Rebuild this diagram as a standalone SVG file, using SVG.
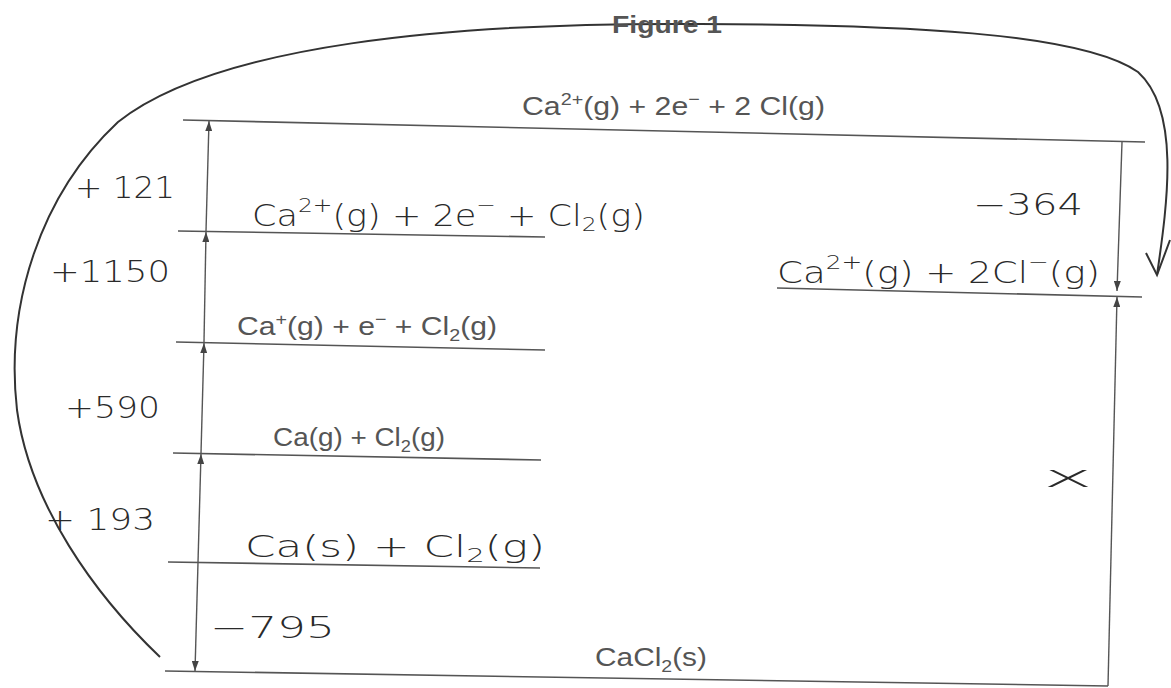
<svg xmlns="http://www.w3.org/2000/svg" width="1171" height="688" viewBox="0 0 1171 688">
<defs>
<marker id="ah" viewBox="0 0 10 7" refX="10" refY="3.5" markerWidth="10" markerHeight="7" markerUnits="userSpaceOnUse" orient="auto-start-reverse">
<path d="M0,0 L10,3.5 L0,7 z" fill="#444"/>
</marker>
<style>
.lvl{stroke:#555;stroke-width:1.6;fill:none}
.conn{stroke:#555;stroke-width:1.4;fill:none}
.curve{stroke:#333;stroke-width:2;fill:none}
.pt{font-family:"Liberation Sans",Arial,sans-serif;font-size:26px;fill:#555}
.hw{font-family:"DejaVu Sans",sans-serif;font-size:30px;fill:#2a2a2a;font-weight:300}
.fig{font-family:"Liberation Sans",Arial,sans-serif;font-size:23px;font-weight:bold;fill:#555}
</style>
</defs>
<rect width="1171" height="688" fill="#fff"/>

<g id="connectors">
<path class="curve" d="M160,657 C95,595 30,505 17,410 C5,305 40,195 118,122 C215,45 450,22 700,24 C900,25 1080,32 1138,72 C1180,110 1168,200 1157,275"/>
<polyline class="curve" points="1146,253 1157,275 1170,240"/>
<line class="conn" x1="206" y1="231" x2="209" y2="121" marker-end="url(#ah)"/>
<line class="conn" x1="204" y1="342" x2="206" y2="232" marker-end="url(#ah)"/>
<line class="conn" x1="201" y1="453" x2="204" y2="343" marker-end="url(#ah)"/>
<line class="conn" x1="201" y1="454" x2="195" y2="671" marker-start="url(#ah)" marker-end="url(#ah)"/>
<line class="conn" x1="1122" y1="142" x2="1117" y2="291" marker-end="url(#ah)"/>
<line class="conn" x1="1108" y1="686" x2="1117" y2="297" marker-end="url(#ah)"/>
</g>

<g id="title">
<text class="fig" x="612" y="33" textLength="110" lengthAdjust="spacingAndGlyphs">Figure 1</text>
</g>

<g id="level-top">
<line class="lvl" x1="183" y1="120" x2="1145" y2="142"/>
<text class="pt" x="522" y="115" textLength="303" lengthAdjust="spacingAndGlyphs">Ca<tspan font-size="17" dy="-10">2+</tspan><tspan dy="10">(g) + 2e</tspan><tspan font-size="17" dy="-10">−</tspan><tspan dy="10"> + 2 Cl(g)</tspan></text>
</g>

<g id="level-ca2-cl2">
<line class="lvl" x1="178" y1="231" x2="545" y2="237"/>
<text class="hw" x="252" y="226" textLength="393" lengthAdjust="spacingAndGlyphs">Ca<tspan font-size="20" dy="-14">2+</tspan><tspan dy="14">(g) + 2e</tspan><tspan font-size="20" dy="-14">−</tspan><tspan dy="14"> + Cl</tspan><tspan font-size="20" dy="5">2</tspan><tspan dy="-5">(g)</tspan></text>
</g>

<g id="level-ca-plus">
<line class="lvl" x1="176" y1="342" x2="545" y2="350"/>
<text class="pt" x="237" y="335" textLength="260" lengthAdjust="spacingAndGlyphs">Ca<tspan font-size="17" dy="-10">+</tspan><tspan dy="10">(g) + e</tspan><tspan font-size="17" dy="-10">−</tspan><tspan dy="10"> + Cl</tspan><tspan font-size="17" dy="6">2</tspan><tspan dy="-6">(g)</tspan></text>
</g>

<g id="level-ca-g">
<line class="lvl" x1="173" y1="453" x2="541" y2="460"/>
<text class="pt" x="273" y="446" textLength="172" lengthAdjust="spacingAndGlyphs">Ca(g) + Cl<tspan font-size="17" dy="6">2</tspan><tspan dy="-6">(g)</tspan></text>
</g>

<g id="level-ca-s">
<line class="lvl" x1="168" y1="562" x2="540" y2="568"/>
<text class="hw" x="245" y="557" textLength="300" lengthAdjust="spacingAndGlyphs">Ca(s) + Cl<tspan font-size="20" dy="5">2</tspan><tspan dy="-5">(g)</tspan></text>
</g>

<g id="level-cacl2">
<line class="lvl" x1="165" y1="671" x2="1108" y2="686"/>
<text class="pt" x="595" y="666" textLength="112" lengthAdjust="spacingAndGlyphs">CaCl<tspan font-size="17" dy="6">2</tspan><tspan dy="-6">(s)</tspan></text>
</g>

<g id="level-ions">
<line class="lvl" x1="777" y1="288" x2="1142" y2="297"/>
<text class="hw" x="777" y="283" textLength="323" lengthAdjust="spacingAndGlyphs">Ca<tspan font-size="20" dy="-14">2+</tspan><tspan dy="14">(g) + 2Cl</tspan><tspan font-size="20" dy="-14">−</tspan><tspan dy="14">(g)</tspan></text>
</g>

<g id="values">
<text class="hw" x="75" y="198" textLength="100" lengthAdjust="spacingAndGlyphs">+ 121</text>
<text class="hw" x="50" y="282" textLength="120" lengthAdjust="spacingAndGlyphs">+1150</text>
<text class="hw" x="65" y="418" textLength="95" lengthAdjust="spacingAndGlyphs">+590</text>
<text class="hw" x="45" y="530" textLength="110" lengthAdjust="spacingAndGlyphs">+ 193</text>
<text class="hw" x="210" y="638" textLength="125" lengthAdjust="spacingAndGlyphs">−795</text>
<text class="hw" x="973" y="215" textLength="110" lengthAdjust="spacingAndGlyphs">−364</text>
<text class="hw" x="1043" y="487" font-size="44" textLength="50" lengthAdjust="spacingAndGlyphs">x</text>
</g>
</svg>
